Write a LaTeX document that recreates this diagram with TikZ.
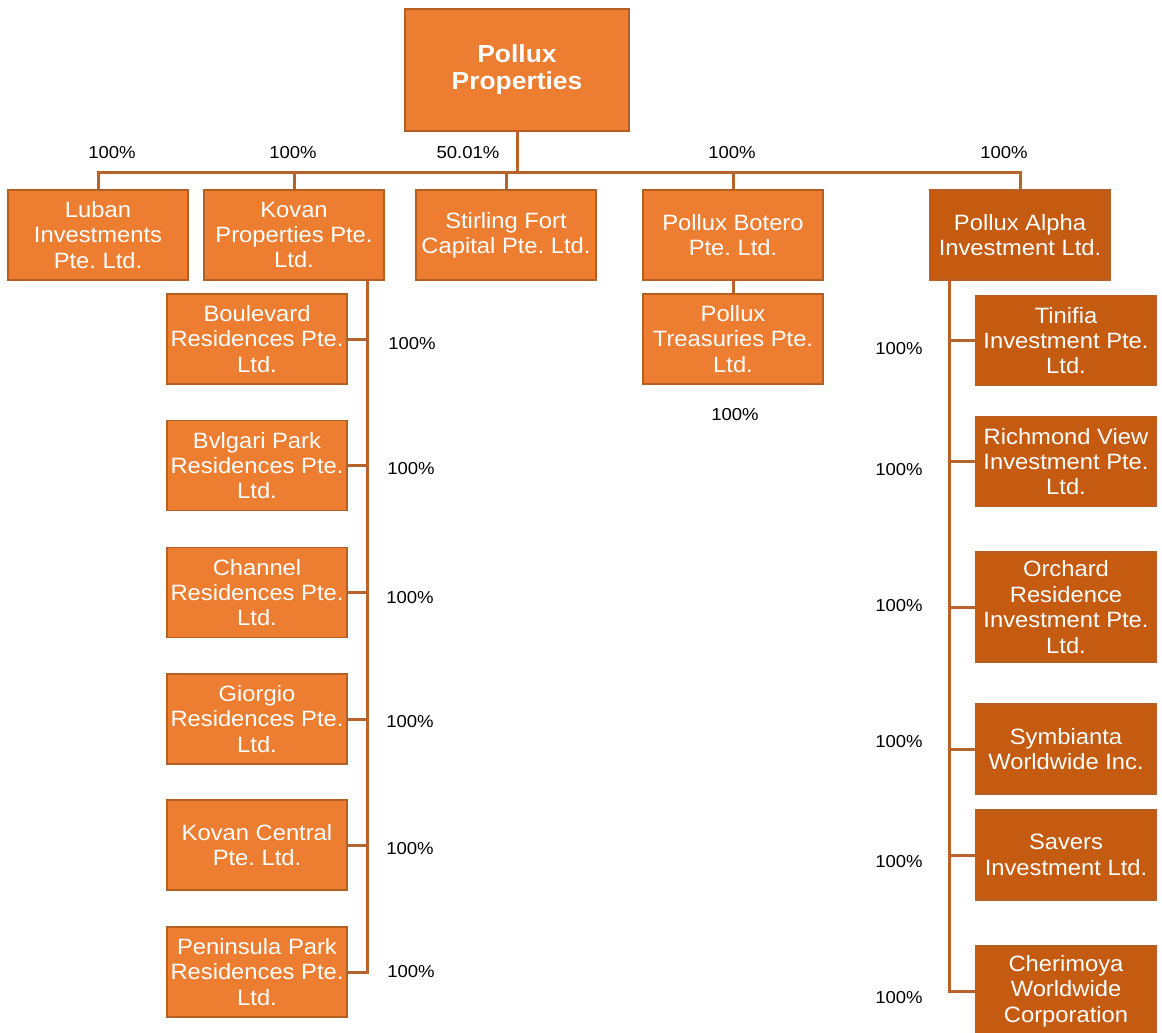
\documentclass[tikz,border=0pt]{standalone}
\usepackage{fontspec}
\setmainfont{Liberation Sans}[FakeStretch=1.07]
\frenchspacing
\definecolor{boxfill}{HTML}{ED7D31}
\definecolor{boxdark}{HTML}{C55A11}
\definecolor{boxline}{HTML}{B45F24}
\definecolor{connline}{HTML}{B8632A}
\tikzset{
  obox/.style={draw=boxline, line width=1.6pt, fill=boxfill, text=white, align=center,
    inner sep=0pt, minimum width=180pt, minimum height=90pt,
    font=\fontsize{22.2}{25.4}\selectfont\frenchspacing},
  dbox/.style={obox, fill=boxdark},
  rootbox/.style={obox, minimum width=224pt, minimum height=122pt,
    font=\fontsize{24.7}{27}\selectfont\bfseries},
  conn/.style={draw=connline, line width=3pt},
  pct/.style={inner sep=0pt, font=\fontsize{17.3}{19}\selectfont, text=black}
}
\begin{document}
\begin{tikzpicture}[x=1pt, y=-1pt]
\useasboundingbox (0,0) rectangle (1162,1033);
% boxes
\node[rootbox] (root) at (517,70) {Pollux\\Properties};
\node[obox] (luban) at (98,235) {Luban\\Investments\\Pte. Ltd.};
\node[obox] (kovan) at (294,235) {Kovan\\Properties Pte.\\Ltd.};
\node[obox] (stirling) at (506,235) {Stirling Fort\\Capital Pte. Ltd.};
\node[obox] (botero) at (733,235) {Pollux Botero\\Pte. Ltd.};
\node[dbox] (alpha) at (1020,235) {Pollux Alpha\\Investment Ltd.};
\node[obox] (treas) at (733,339) {Pollux\\Treasuries Pte.\\Ltd.};
% Kovan children
\node[obox] (boul) at (257,339) {Boulevard\\Residences Pte.\\Ltd.};
\node[obox] (bvl) at (257,465.5) {Bvlgari Park\\Residences Pte.\\Ltd.};
\node[obox] (chan) at (257,592.5) {Channel\\Residences Pte.\\Ltd.};
\node[obox] (gio) at (257,719) {Giorgio\\Residences Pte.\\Ltd.};
\node[obox] (kcen) at (257,845) {Kovan Central\\Pte. Ltd.};
\node[obox] (pen) at (257,972) {Peninsula Park\\Residences Pte.\\Ltd.};
% Alpha children
\node[dbox, minimum width=181pt] (tin) at (1066,340.5) {Tinifia\\Investment Pte.\\Ltd.};
\node[dbox, minimum width=181pt] (rich) at (1066,461.5) {Richmond View\\Investment Pte.\\Ltd.};
\node[dbox, minimum width=181pt, minimum height=110pt] (orch) at (1066,607) {Orchard\\Residence\\Investment Pte.\\Ltd.};
\node[dbox, minimum width=181pt] (sym) at (1066,749) {Symbianta\\Worldwide Inc.};
\node[dbox, minimum width=181pt] (sav) at (1066,855) {Savers\\Investment Ltd.};
\node[dbox, minimum width=181pt] (cher) at (1066,991) {Cherimoya\\Worldwide\\Corporation};
% connectors top level
\coordinate (bus) at (0,172);
\draw[conn] (root.south) -- (root.south |- bus);
\draw[conn] (luban.north) -- (luban.north |- bus) -- (alpha.north |- bus) -- (alpha.north);
\draw[conn] (kovan.north) -- (kovan.north |- bus);
\draw[conn] (stirling.north) -- (stirling.north |- bus);
\draw[conn] (botero.north) -- (botero.north |- bus);
\draw[conn] (botero.south) -- (treas.north);
% Kovan tree
\coordinate (kx) at (367,0);
\draw[conn] (kovan.south -| kx) |- (pen.east);
\foreach \n in {boul,bvl,chan,gio,kcen} \draw[conn] (\n.east) -- (\n.east -| kx);
% Alpha tree
\coordinate (ax) at (949,0);
\draw[conn] (alpha.south -| ax) |- (cher.west);
\foreach \n in {tin,rich,orch,sym,sav} \draw[conn] (\n.west) -- (\n.west -| ax);
% percentage labels
\node[pct] (p1) at (112,153) {100\%};
\node[pct] (p2) at (293,153) {100\%};
\node[pct] (p3) at (468,153) {50.01\%};
\node[pct] (p4) at (732,153) {100\%};
\node[pct] (p5) at (1004,153) {100\%};
\node[pct] (pt) at (735,415) {100\%};
\node[pct] (k1) at (412,344) {100\%};
\node[pct] (k2) at (411,469) {100\%};
\node[pct] (k3) at (410,598) {100\%};
\node[pct] (k4) at (410,722) {100\%};
\node[pct] (k5) at (410,849) {100\%};
\node[pct] (k6) at (411,972) {100\%};
\node[pct] (a1) at (899,349) {100\%};
\node[pct] (a2) at (899,470) {100\%};
\node[pct] (a3) at (899,606) {100\%};
\node[pct] (a4) at (899,742) {100\%};
\node[pct] (a5) at (899,862) {100\%};
\node[pct] (a6) at (899,998) {100\%};
\end{tikzpicture}
\end{document}
